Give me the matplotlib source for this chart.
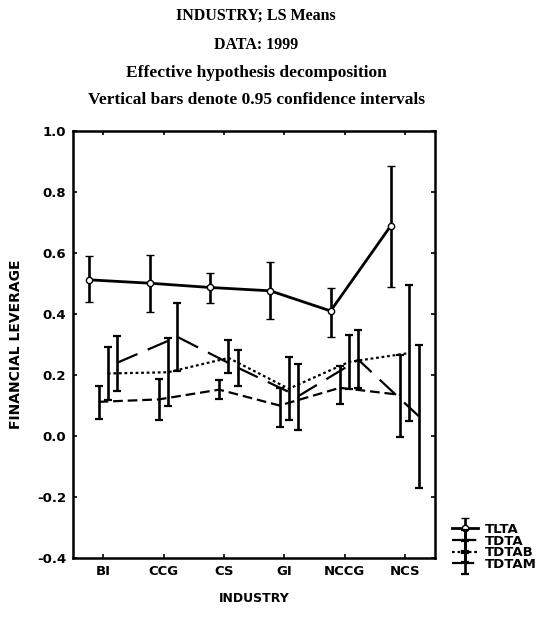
import numpy as np
import matplotlib
matplotlib.use('Agg')
import matplotlib.pyplot as plt
from matplotlib.container import ErrorbarContainer
from matplotlib.legend_handler import HandlerErrorbar

plt.rcParams['lines.scale_dashes'] = False

# categories and series (means, lower / upper 0.95 confidence limits)
industries = ['BI', 'CCG', 'CS', 'GI', 'NCCG', 'NCS']
series_names = ['TLTA', 'TDTA', 'TDTAB', 'TDTAM']

tlta_mean = [0.512, 0.501, 0.487, 0.476, 0.410, 0.690]
tlta_lo = [0.438, 0.405, 0.436, 0.384, 0.325, 0.490]
tlta_hi = [0.591, 0.594, 0.536, 0.569, 0.485, 0.885]

tdta_mean = [0.112, 0.120, 0.152, 0.100, 0.158, 0.135]
tdta_lo = [0.056, 0.052, 0.120, 0.030, 0.106, -0.003]
tdta_hi = [0.165, 0.187, 0.185, 0.158, 0.229, 0.267]

tdtab_mean = [0.205, 0.209, 0.256, 0.155, 0.243, 0.272]
tdtab_lo = [0.118, 0.100, 0.205, 0.052, 0.154, 0.049]
tdtab_hi = [0.292, 0.321, 0.316, 0.259, 0.332, 0.496]

tdtam_mean = [0.240, 0.325, 0.224, 0.130, 0.250, 0.065]
tdtam_lo = [0.147, 0.212, 0.165, 0.021, 0.158, -0.170]
tdtam_hi = [0.329, 0.436, 0.283, 0.237, 0.349, 0.300]

means = [tlta_mean, tdta_mean, tdtab_mean, tdtam_mean]
lows = [tlta_lo, tdta_lo, tdtab_lo, tdtam_lo]
highs = [tlta_hi, tdta_hi, tdtab_hi, tdtam_hi]

# styles
offsets = [-0.23, -0.077, 0.077, 0.23]
dash_styles = [None, (7, 3.5), (2, 2), (16, 8)]
line_widths = [2.0, 1.6, 1.6, 1.6]
sans = 'DejaVu Sans'

fig = plt.figure(figsize=(5.41, 6.21), dpi=100)
ax = fig.add_axes([73/541, 1 - 558/621, (435 - 73)/541, (558 - 131)/621])

x = np.arange(len(industries))
handles = []
for i in range(4):
    m = np.array(means[i])
    lo = np.array(lows[i])
    hi = np.array(highs[i])
    kw = dict(color='black', lw=line_widths[i], ecolor='black',
              elinewidth=1.9, capsize=3, capthick=1.6)
    if i == 0:
        kw.update(marker='o', ms=4.5, mfc='white', mec='black', mew=1.0)
    else:
        kw.update(marker='none', dashes=dash_styles[i])
    h = ax.errorbar(x + offsets[i], m, yerr=[m - lo, hi - m], **kw)
    handles.append(h)

ax.set_xlim(-0.5, 5.5)
ax.set_ylim(-0.4, 1.0)
ax.set_xticks(x)
ax.set_xticklabels(industries)
ax.set_yticks(np.arange(-0.4, 1.01, 0.2))
ax.set_yticklabels(['%.1f' % v for v in np.arange(-0.4, 1.01, 0.2)])

for s in ax.spines.values():
    s.set_linewidth(1.8)
ax.tick_params(direction='in', length=3, width=1.2, top=True, right=True,
               labelsize=9.5, pad=5)
for lab in ax.get_xticklabels() + ax.get_yticklabels():
    lab.set_fontfamily(sans)
    lab.set_fontweight('bold')

ax.set_xlabel('INDUSTRY', fontsize=9, fontweight='bold',
              fontfamily=sans, labelpad=10)
ax.set_ylabel('FINANCIAL LEVERAGE', fontsize=10, fontweight='bold',
              fontfamily=sans, labelpad=10)

# title block
title_lines = ['INDUSTRY; LS Means', 'DATA: 1999',
               'Effective hypothesis decomposition',
               'Vertical bars denote 0.95 confidence intervals']
title_y = [16, 45, 73, 100]
title_size = [11.5, 11.5, 12.5, 12.5]
for t, yy, fs in zip(title_lines, title_y, title_size):
    fig.text(256/541, 1 - yy/621, t, ha='center', va='center',
             fontsize=fs, fontweight='bold', fontfamily='Liberation Serif')

leg = fig.legend(handles, series_names, loc='upper left',
                 bbox_to_anchor=(452/541, 1 - 523/621), frameon=False,
                 handlelength=2.0, handletextpad=0.5, labelspacing=-0.1,
                 borderpad=0, borderaxespad=0,
                 handler_map={ErrorbarContainer:
                              HandlerErrorbar(xerr_size=0.5, yerr_size=0.8)},
                 prop={'family': sans, 'weight': 'bold', 'size': 9.5})

fig.savefig('out.png', dpi=100)
